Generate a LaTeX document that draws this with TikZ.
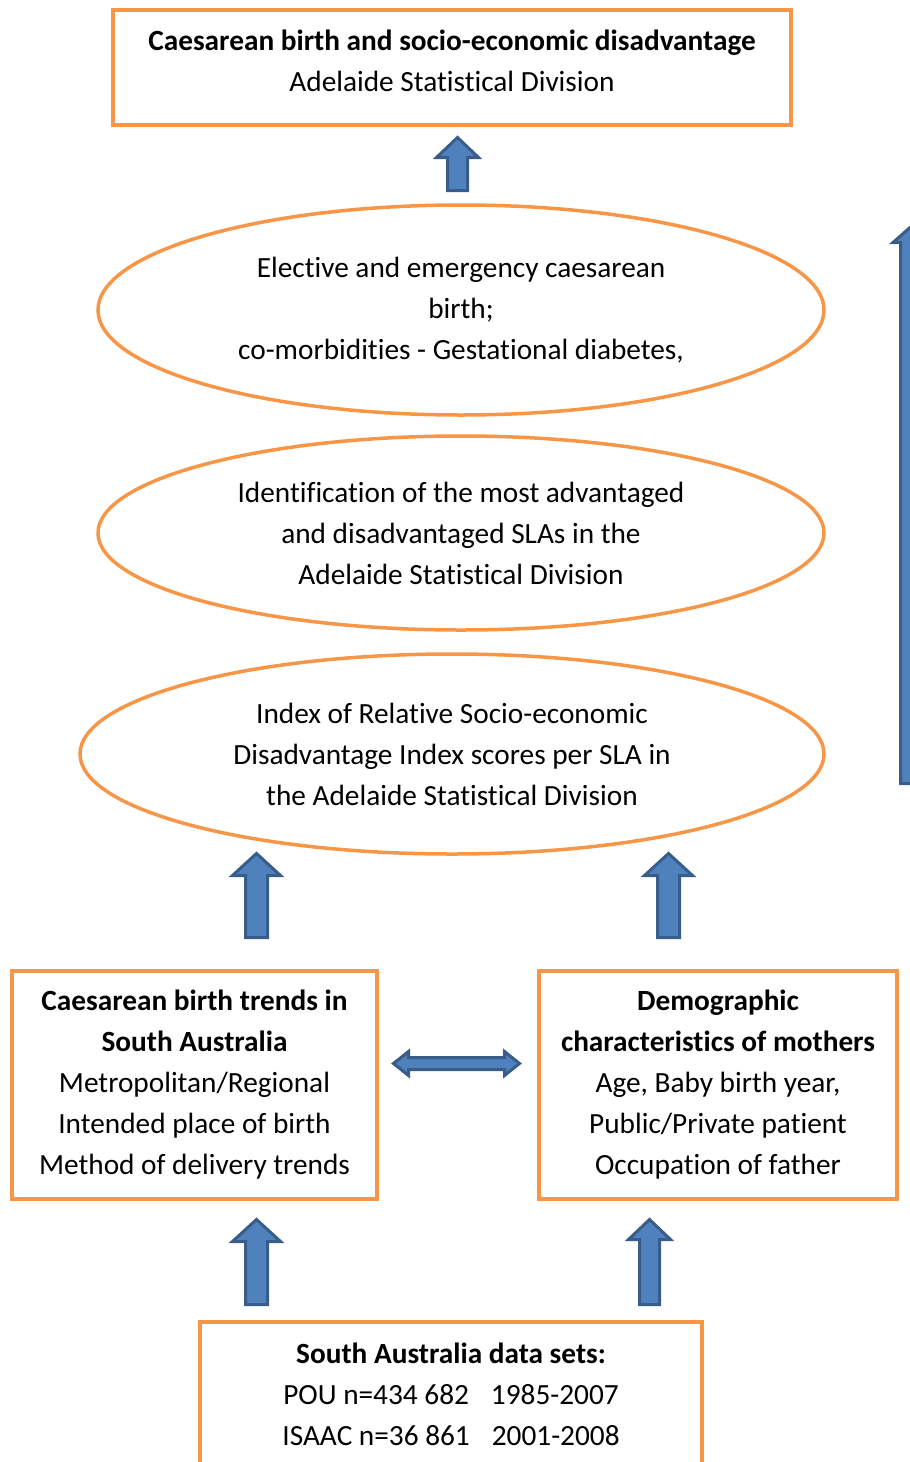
\documentclass[tikz,border=0pt]{standalone}
\usepackage{fontspec}
\setmainfont{Carlito}[Ligatures=NoCommon]
\usetikzlibrary{shapes.geometric, calc}
\definecolor{boxorange}{HTML}{F79646}
\definecolor{arrowedge}{HTML}{385D8A}
\definecolor{arrowfill}{HTML}{4F81BD}
\newcommand{\diagfont}{\fontsize{29.3}{41}\selectfont}
\tikzstyle{box} = [rectangle, draw=boxorange, line width=3.5pt, inner sep=0pt, outer sep=0pt, align=center, font=\diagfont]
\tikzstyle{oval} = [ellipse, draw=boxorange, line width=3.5pt, inner sep=0pt, outer sep=0pt, align=center, font=\diagfont]
\tikzset{
  blockup/.style n args={3}{draw=arrowedge, fill=arrowfill, line width=3pt, line join=miter,
    to path={let \p1=(\tikztostart), \p2=(\tikztotarget) in
      (\x1-#1,\y1) -- (\x1-#1,\y2-#3) -- (\x1-#2,\y2-#3) -- (\x1,\y2)
      -- (\x1+#2,\y2-#3) -- (\x1+#1,\y2-#3) -- (\x1+#1,\y1) -- cycle}},
  blockboth/.style n args={3}{draw=arrowedge, fill=arrowfill, line width=3pt, line join=miter,
    to path={let \p1=(\tikztostart), \p2=(\tikztotarget) in
      (\x1,\y1) -- (\x1+#3,\y1+#2) -- (\x1+#3,\y1+#1) -- (\x2-#3,\y1+#1) -- (\x2-#3,\y1+#2)
      -- (\x2,\y1) -- (\x2-#3,\y1-#2) -- (\x2-#3,\y1-#1) -- (\x1+#3,\y1-#1) -- (\x1+#3,\y1-#2) -- cycle}}
}

\begin{document}
\begin{tikzpicture}[x=1pt, y=-1pt]
\useasboundingbox (0,0) rectangle (910,1462);
\clip (0,0) rectangle (910,1462);

\node (title) [box, minimum width=678pt, minimum height=115pt, text depth=13pt] at (452,67.5) {\textbf{Caesarean birth and socio-economic disadvantage}\\Adelaide Statistical Division};

\node (ellA) [oval, minimum width=726pt, minimum height=210pt] at (461,310) {Elective and emergency caesarean\\birth;\\co-morbidities - Gestational diabetes,};
\draw [blockup={10pt}{21pt}{20pt}] ([shift={(-3.5,-14.5)}]ellA.north) to ([shift={(0,12.5)}]title.south);

\node (ellB) [oval, minimum width=726pt, minimum height=194pt] at (461,533) {Identification of the most advantaged\\and disadvantaged SLAs in the\\Adelaide Statistical Division};
\node (ellC) [oval, minimum width=744pt, minimum height=200pt] at (452,754) {Index of Relative Socio-economic\\Disadvantage Index scores per SLA in\\the Adelaide Statistical Division};

% side arrow, cut by the page edge
\coordinate (sideFoot) at (910,783.5);
\coordinate (sideTip) at (910,227.5);
\draw [blockup={9.5pt}{17pt}{15pt}] (sideFoot) to (sideTip);

\node (trends) [box, minimum width=365pt, minimum height=228pt] at (194.5,1085) {\textbf{Caesarean birth trends in}\\\textbf{South Australia}\\Metropolitan/Regional\\Intended place of birth\\Method of delivery trends};
\node (mothers) [box, minimum width=358pt, minimum height=228pt] at (718,1085) {\textbf{Demographic}\\\textbf{characteristics of mothers}\\Age, Baby birth year,\\Public/Private patient\\Occupation of father};
\draw [blockup={11pt}{24pt}{22pt}] ([shift={(62,-33.5)}]trends.north) to ([shift={(0,-0.5)}]ellC.south);
\draw [blockup={11pt}{24pt}{22pt}] ([shift={(-49.5,-33.5)}]mothers.north) to ([shift={(0,-0.5)}]ellC.south);
\draw [blockboth={6pt}{12pt}{15pt}] ([shift={(16.5,-21.5)}]trends.east) to ([shift={(-19.5,-21.5)}]mothers.west);

\node (data) [box, minimum width=502pt, minimum height=144pt] at (451,1394) {\textbf{South Australia data sets:}\\POU n=434 682\hspace{22pt}1985-2007\\ISAAC n=36 861\hspace{22pt}2001-2008};
\draw [blockup={11pt}{24pt}{22pt}] ([shift={(-194.5,-17.5)}]data.north) to ([shift={(0,20.5)}]trends.south);
\draw [blockup={10pt}{21pt}{20pt}] ([shift={(198.5,-17.5)}]data.north) to ([shift={(0,20.5)}]mothers.south);

\end{tikzpicture}
\end{document}
